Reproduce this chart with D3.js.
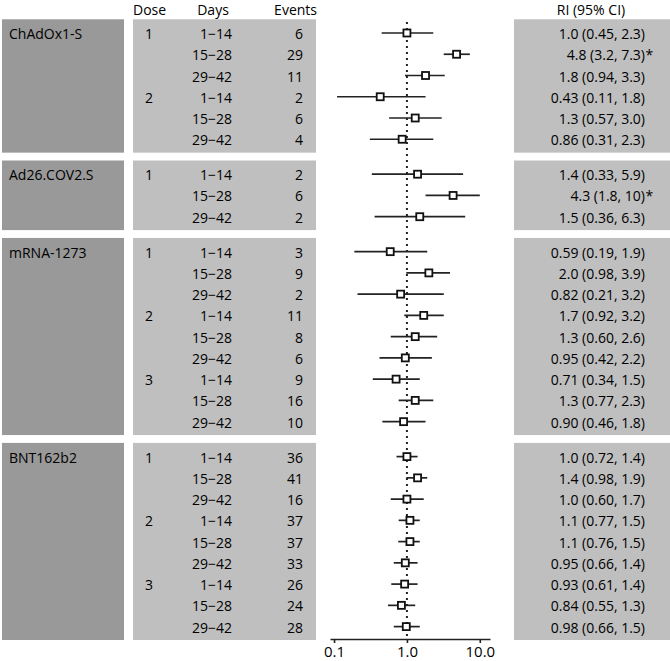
<!DOCTYPE html>
<html><head><meta charset="utf-8">
<script src="https://cdn.jsdelivr.net/npm/d3@7"></script>
<style>body{margin:0;background:#fff}svg{display:block}text{font-family:"Open Sans","Noto Sans",sans-serif;fill:#000}</style>
</head><body><svg id="c" width="670" height="661"></svg>
<script>
const vaccines = ["ChAdOx1-S","Ad26.COV2.S","mRNA-1273","BNT162b2"];
const groupOf  = [0,0,0,0,0,0, 1,1,1, 2,2,2,2,2,2,2,2,2, 3,3,3,3,3,3,3,3,3];
const doses    = ["1","","","2","","", "1","","", "1","","","2","","","3","","", "1","","","2","","","3","",""];
const days     = ["1−14","15−28","29−42","1−14","15−28","29−42","1−14","15−28","29−42",
                  "1−14","15−28","29−42","1−14","15−28","29−42","1−14","15−28","29−42",
                  "1−14","15−28","29−42","1−14","15−28","29−42","1−14","15−28","29−42"];
const events   = [6,29,11,2,6,4, 2,6,2, 3,9,2,11,8,6,9,16,10, 36,41,16,37,37,33,26,24,28];
const ri       = [1.0,4.8,1.8,0.43,1.3,0.86, 1.4,4.3,1.5, 0.59,2.0,0.82,1.7,1.3,0.95,0.71,1.3,0.90, 1.0,1.4,1.0,1.1,1.1,0.95,0.93,0.84,0.98];
const lo       = [0.45,3.2,0.94,0.11,0.57,0.31, 0.33,1.8,0.36, 0.19,0.98,0.21,0.92,0.60,0.42,0.34,0.77,0.46, 0.72,0.98,0.60,0.77,0.76,0.66,0.61,0.55,0.66];
const hi       = [2.3,7.3,3.3,1.8,3.0,2.3, 5.9,10,6.3, 1.9,3.9,3.2,3.2,2.6,2.2,1.5,2.3,1.8, 1.4,1.9,1.7,1.5,1.5,1.4,1.4,1.3,1.5];
const signif   = [0,1,0,0,0,0, 0,1,0, 0,0,0,0,0,0,0,0,0, 0,0,0,0,0,0,0,0,0];
const xTicks   = [0.1,1,10];

const svg = d3.select("#c");
const gapSlots = 13.7/21.25;
const slot = groupOf.map((g,i)=> i + g*gapSlots);
const y = d3.scaleLinear().domain([0, 1]).range([33, 33+21.25]);
const x = d3.scaleLog().domain([0.088, 13.8]).range([330, 490]);
const fmt = d3.format(".2r");

// panels
vaccines.forEach((v,g)=>{
  const idx = d3.range(groupOf.length).filter(i=>groupOf[i]===g);
  const top = y(slot[idx[0]]) - 13.7, bot = y(slot[idx[idx.length-1]]) + 13.4;
  svg.append("rect").attr("x",2).attr("y",top).attr("width",122).attr("height",bot-top).attr("fill","#999999");
  svg.append("rect").attr("x",133).attr("y",top).attr("width",183).attr("height",bot-top).attr("fill","#bfbfbf");
  svg.append("rect").attr("x",514).attr("y",top).attr("width",156).attr("height",bot-top).attr("fill","#bfbfbf");
  svg.append("text").attr("x",9).attr("y",y(slot[idx[0]])+6).attr("font-size",14).text(v);
});

// headers
const hdr = svg.append("g").attr("font-size",14);
hdr.append("text").attr("x",133).attr("y",14.5).text("Dose");
hdr.append("text").attr("x",213).attr("y",14.5).attr("text-anchor","middle").text("Days");
hdr.append("text").attr("x",317).attr("y",14.5).attr("text-anchor","end").text("Events");
hdr.append("text").attr("x",591).attr("y",14.5).attr("text-anchor","middle").text("RI (95% CI)");

// rows text
const rows = svg.append("g").attr("font-size",14).selectAll("g").data(d3.range(ri.length)).join("g")
  .attr("transform", i=>`translate(0,${y(slot[i])+6})`);
rows.append("text").attr("x",149).attr("text-anchor","middle").text(i=>doses[i]);
rows.append("text").attr("x",232).attr("text-anchor","end").text(i=>days[i]);
rows.append("text").attr("x",303).attr("text-anchor","end").text(i=>events[i]);
rows.append("text").attr("x",645).attr("text-anchor","end").text(i=>`${fmt(ri[i])} (${fmt(lo[i])}, ${fmt(hi[i])})`);
rows.filter(i=>signif[i]).append("text").attr("x",645.5).text("*");

// reference line
svg.append("line").attr("x1",x(1)).attr("x2",x(1)).attr("y1",22).attr("y2",636)
  .attr("stroke","#222").attr("stroke-width",2).attr("stroke-dasharray","2,4");

// CI bars & markers
const marks = svg.append("g").selectAll("g").data(d3.range(ri.length)).join("g");
marks.append("line").attr("x1",i=>x(lo[i])).attr("x2",i=>x(hi[i]))
  .attr("y1",i=>y(slot[i])).attr("y2",i=>y(slot[i])).attr("stroke","#222").attr("stroke-width",1.7);
marks.append("rect").attr("x",i=>x(ri[i])-3.5).attr("y",i=>y(slot[i])-3.5).attr("width",7).attr("height",7)
  .attr("fill","#fff").attr("stroke","#111").attr("stroke-width",1.8);

// axis
const ax = svg.append("g").attr("transform","translate(0,639)")
  .call(d3.axisBottom(x).tickValues(xTicks).tickFormat(d3.format(".1f")).tickSizeOuter(0).tickSizeInner(4));
ax.select(".domain").attr("stroke","#222").attr("stroke-width",1.6);
ax.selectAll(".tick line").attr("stroke","#222").attr("stroke-width",1.6);
ax.selectAll(".tick text").attr("font-size",15).attr("font-family","Open Sans").attr("fill","#000").attr("dy","0.71em");
</script></body></html>
